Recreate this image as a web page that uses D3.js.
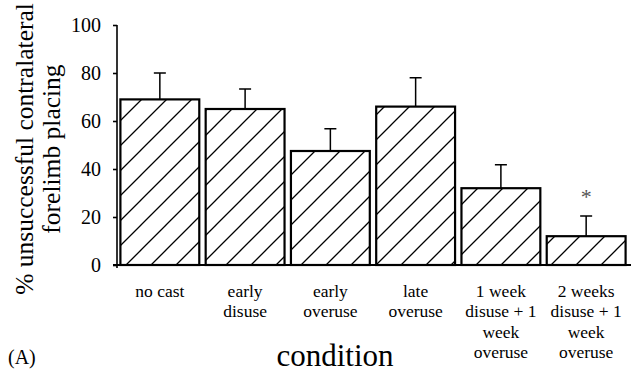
<!DOCTYPE html>
<html><head><meta charset="utf-8">
<script src="https://cdn.jsdelivr.net/npm/d3@7"></script>
<style>body{margin:0;background:#fff}svg{display:block}</style>
</head><body><svg id="c" width="638" height="373" style="font-family:'Liberation Serif','Times New Roman',Times,serif"></svg>
<script>
const categories = [["no cast"],["early","disuse"],["early","overuse"],["late","overuse"],["1 week","disuse + 1","week","overuse"],["2 weeks","disuse + 1","week","overuse"]];
const values = [69, 65, 47.5, 66, 32, 12];
const errors = [11, 8.3, 9.3, 12, 9.8, 8.4];
const significant = [false, false, false, false, false, true];
const yTicks = [0, 20, 40, 60, 80, 100];

const FONT = "'Liberation Serif','Times New Roman',Times,serif";
const svg = d3.select("#c");
const x = d3.scaleBand().domain(d3.range(categories.length)).range([117, 629]).paddingInner(0.075).paddingOuter(0.04);
const y = d3.scaleLinear().domain([0, 100]).range([265, 25]);

const defs = svg.append("defs");
const pat = defs.append("pattern").attr("id","hatch").attr("patternUnits","userSpaceOnUse")
  .attr("width",25).attr("height",25).attr("x",16).attr("y",0);
pat.append("path").attr("d","M-5,5L5,-5M0,25L25,0M20,30L30,20").attr("stroke","#000").attr("stroke-width",1.3);

const g = svg.append("g");
g.selectAll("rect.bar").data(values).join("rect").attr("class","bar")
  .attr("x",(d,i)=>x(i)).attr("width",x.bandwidth())
  .attr("y",d=>y(d)).attr("height",d=>y(0)-y(d))
  .attr("fill","url(#hatch)").attr("stroke","#000").attr("stroke-width",2.2);

const cap = 6;
g.selectAll("path.err").data(values).join("path").attr("class","err")
  .attr("d",(d,i)=>{const cx=x(i)+x.bandwidth()/2; return `M${cx},${y(d)}V${y(d+errors[i])}M${cx-cap},${y(d+errors[i])}H${cx+cap}`;})
  .attr("stroke","#000").attr("stroke-width",1.5).attr("fill","none");

g.selectAll("text.sig").data(values.map((d,i)=>({d,i})).filter(o=>significant[o.i])).join("text").attr("class","sig")
  .attr("x",o=>x(o.i)+x.bandwidth()/2).attr("y",o=>y(o.d+errors[o.i])-12)
  .attr("text-anchor","middle").style("font-family",FONT).attr("font-size",22).attr("fill","#555").text("*");

const yAxis = d3.axisLeft(y).tickValues(yTicks).tickSize(4).tickPadding(12);
const ya = svg.append("g").attr("transform","translate(117,0)").call(yAxis).attr("font-family",null).attr("font-size",null);
ya.select(".domain").attr("d","M0,25V268").attr("stroke-width",1.6);
ya.selectAll(".tick line").attr("stroke-width",1.6);
ya.selectAll(".tick text").style("font-family",FONT).attr("font-size",20).attr("fill","#000");

svg.append("line").attr("x1",113).attr("x2",631).attr("y1",y(0)).attr("y2",y(0)).attr("stroke","#000").attr("stroke-width",1.8);

const xl = svg.append("g").selectAll("text").data(categories).join("text")
  .attr("x",(d,i)=>x(i)+x.bandwidth()/2).attr("y",297).attr("text-anchor","middle").style("font-family",FONT).attr("font-size",17.5);
xl.selectAll("tspan").data(d=>d).join("tspan").attr("x",function(){return d3.select(this.parentNode).attr("x");})
  .attr("dy",(d,i)=>i===0?0:20.3).text(d=>d);

const yl = svg.append("text").attr("transform","translate(0,149) rotate(-90)").attr("text-anchor","middle").style("font-family",FONT).attr("font-size",25.5);
yl.append("tspan").attr("x",0).attr("y",33).text("% unsuccessful contralateral");
yl.append("tspan").attr("x",0).attr("y",60).text("forelimb placing");

svg.append("text").attr("x",335).attr("y",366).attr("text-anchor","middle").style("font-family",FONT).attr("font-size",31).text("condition");
svg.append("text").attr("x",8).attr("y",364).style("font-family",FONT).attr("font-size",20).text("(A)");
</script></body></html>
